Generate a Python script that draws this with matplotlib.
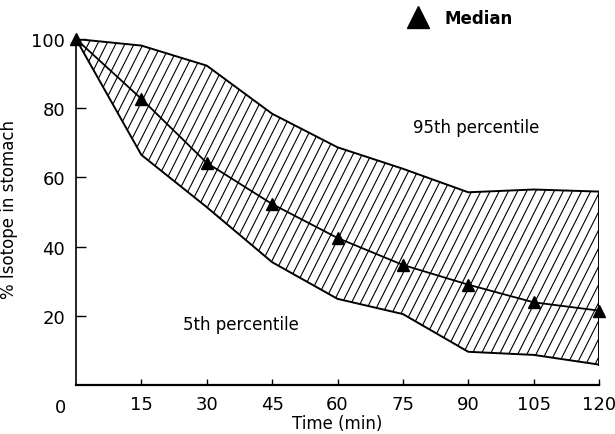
import numpy as np
import matplotlib
matplotlib.use("Agg")
import matplotlib.pyplot as plt

# values
time_min = [0, 15, 30, 45, 60, 75, 90, 105, 120]
p95 = [100, 98.1, 92.3, 78.4, 68.7, 62.5, 55.7, 56.5, 55.9]
p5 = [100, 66.5, 51.4, 35.5, 24.9, 20.5, 9.6, 8.7, 5.9]
median = [100, 82.7, 64.2, 52.3, 42.5, 34.7, 29.0, 23.9, 21.5]
xticks = [15, 30, 45, 60, 75, 90, 105, 120]
yticks = [20, 40, 60, 80, 100]

plt.rcParams['font.family'] = ['DejaVu Sans']

fig = plt.figure(figsize=(6.15, 4.35), dpi=100)
ax = fig.add_axes([76 / 615, 1 - 386 / 435, (599 - 76) / 615, (386 - 40) / 435])

ax.set_xlim(0, 120)
ax.set_ylim(0, 100)

# shaded band, hatched with steep lines clipped to the band
band = ax.fill_between(time_min, p5, p95, facecolor="white", edgecolor="none")
slope = 2.5
for x0 in np.arange(-45, 125, 2.1):
    xs = np.array([x0, x0 + 45])
    hl, = ax.plot(xs, slope * (xs - x0), color="black", lw=0.8)
    hl.set_clip_path(band.get_paths()[0], ax.transData)

ax.plot(time_min, p95, color="black", lw=1.4)
ax.plot(time_min, p5, color="black", lw=1.4)
ax.plot([time_min[-1], time_min[-1]], [p5[-1], p95[-1]], color="black", lw=1.4)

ax.plot(time_min, median, color="black", lw=1.3, marker="^", markersize=8.5,
        label="Median", clip_on=False)

ax.legend(loc="center left", bbox_to_anchor=(0.625, 1.06), frameon=False,
          handlelength=0, handletextpad=1.6, markerscale=1.9,
          prop={"size": 12, "weight": "semibold"})

ax.text(91.8, 74.6, "95th percentile", ha="center", va="center", fontsize=12)
ax.text(37.9, 17.6, "5th percentile", ha="center", va="center", fontsize=12)

ax.set_xticks(xticks)
ax.set_yticks(yticks)
ax.tick_params(axis="both", direction="in", labelsize=13, width=1)
ax.tick_params(axis="y", length=7, pad=8)
ax.tick_params(axis="x", length=4, pad=7)
ax.text(-3.5, -6.5, "0", ha="center", va="center", fontsize=13)

ax.spines["top"].set_visible(False)
ax.spines["right"].set_visible(False)
ax.spines["left"].set_linewidth(1.2)
ax.spines["bottom"].set_linewidth(1.6)

ax.set_xlabel("Time (min)", fontsize=12, labelpad=1)
ax.set_ylabel("% Isotope in stomach", fontsize=12)
ax.yaxis.set_label_coords(-0.11, 0.51)

fig.savefig("out.png", dpi=100)
